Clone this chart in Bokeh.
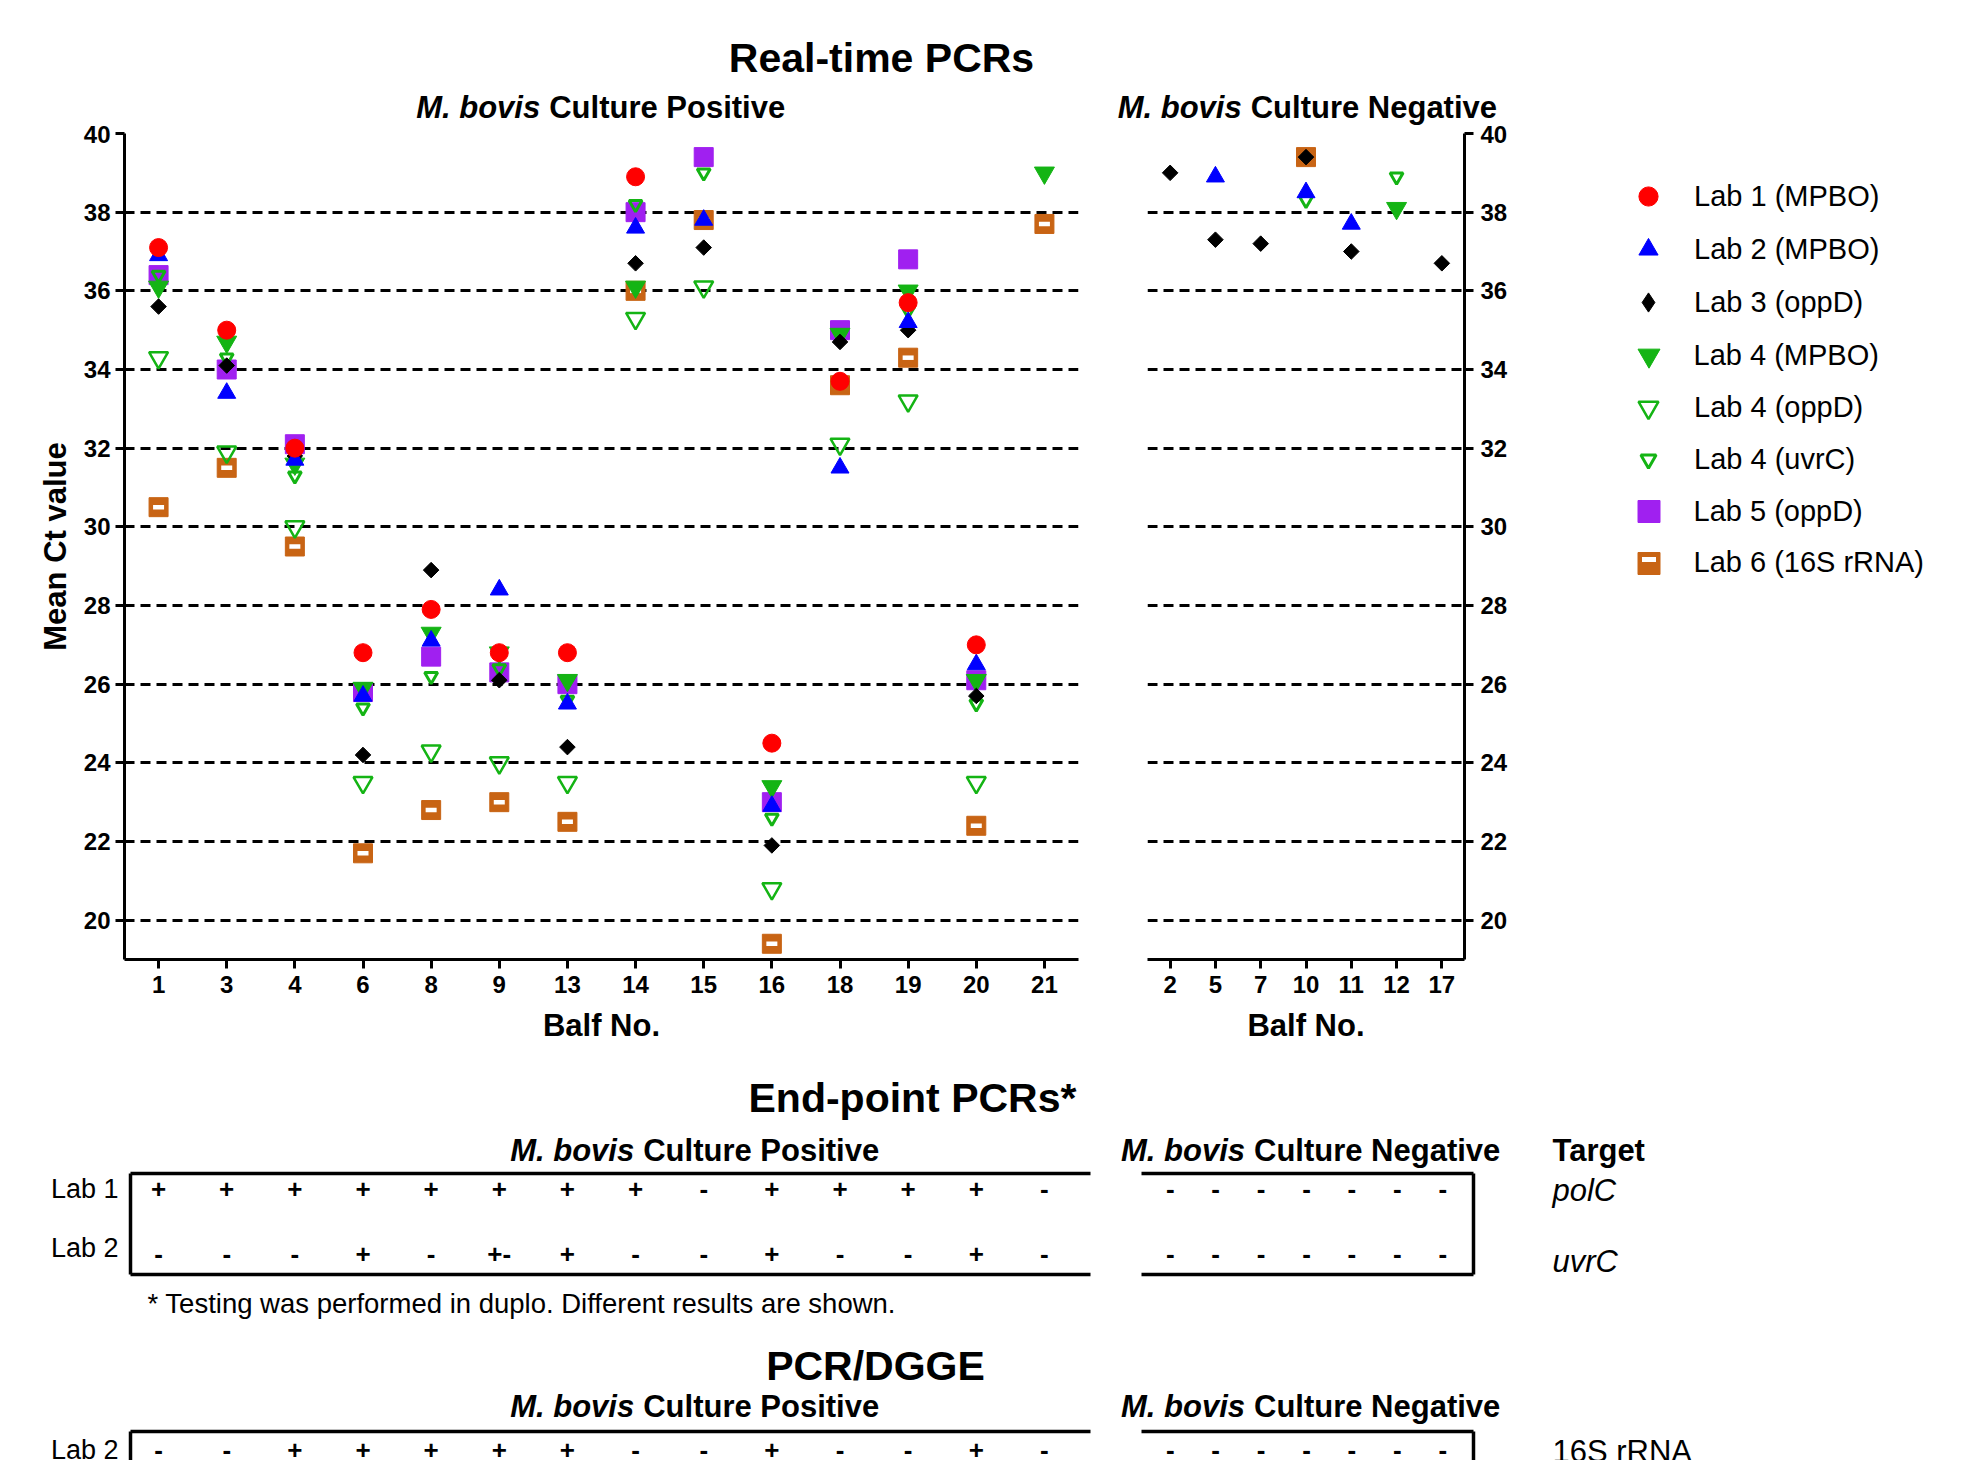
from bokeh.plotting import figure
from bokeh.models import (ColumnDataSource, FactorRange, Range1d, FixedTicker, Label,
                          Legend, LegendItem, LinearAxis)
from bokeh.layouts import column, row
from bokeh.embed import file_html
from bokeh.resources import INLINE
from bokeh.core.properties import value
import numpy as np
import math

FONT = "Liberation Sans"

# ---------------- data ----------------
balf_positive = ["1", "3", "4", "6", "8", "9", "13", "14", "15", "16", "18", "19", "20", "21"]
balf_negative = ["2", "5", "7", "10", "11", "12", "17"]
ct_ticks = [20, 22, 24, 26, 28, 30, 32, 34, 36, 38, 40]

series_labels = ["Lab 1 (MPBO)", "Lab 2 (MPBO)", "Lab 3 (oppD)", "Lab 4 (MPBO)",
                 "Lab 4 (oppD)", "Lab 4 (uvrC)", "Lab 5 (oppD)", "Lab 6 (16S rRNA)"]

# Mean Ct values, culture positive Balfs (order of balf_positive)
lab1_mpbo_pos = [37.1, 35.0, 32.0, 26.8, 27.9, 26.8, 26.8, 38.9, None, 24.5, 33.7, 35.7, 27.0, None]
lab2_mpbo_pos = [36.9, 33.4, 31.7, 25.7, 27.1, 28.4, 25.5, 37.6, 37.8, 22.9, 31.5, 35.2, 26.5, None]
lab3_oppd_pos = [35.6, 34.1, 31.8, 24.2, 28.9, 26.1, 24.4, 36.7, 37.1, 21.9, 34.7, 35.0, 25.7, None]
lab4_mpbo_pos = [36.1, 34.7, 31.6, 25.9, 27.3, 26.8, 26.1, 36.1, None, 23.4, 34.9, 36.0, 26.1, 39.0]
lab4_oppd_pos = [34.3, 31.9, 30.0, 23.5, 24.3, 24.0, 23.5, 35.3, 36.1, 20.8, 32.1, 33.2, 23.5, None]
lab4_uvrc_pos = [36.4, 34.3, 31.3, 25.4, 26.2, 26.4, 25.6, 38.2, 39.0, 22.6, 34.9, 35.5, 25.5, None]
lab5_oppd_pos = [36.4, 34.0, 32.1, 25.8, 26.7, 26.3, 26.0, 38.0, 39.4, 23.0, 35.0, 36.8, 26.1, None]
lab6_16s_pos = [30.5, 31.5, 29.5, 21.7, 22.8, 23.0, 22.5, 36.0, 37.8, 19.4, 33.6, 34.3, 22.4, 37.7]

# Mean Ct values, culture negative Balfs (order of balf_negative)
lab1_mpbo_neg = [None, None, None, None, None, None, None]
lab2_mpbo_neg = [None, 38.9, None, 38.5, 37.7, None, None]
lab3_oppd_neg = [39.0, 37.3, 37.2, 39.4, 37.0, None, 36.7]
lab4_mpbo_neg = [None, None, None, None, None, 38.1, None]
lab4_oppd_neg = [None, None, None, None, None, None, None]
lab4_uvrc_neg = [None, None, None, 38.3, None, 38.9, None]
lab5_oppd_neg = [None, None, None, None, None, None, None]
lab6_16s_neg = [None, None, None, 39.4, None, None, None]

# End-point PCR results
endpoint_rows = ["Lab 1", "Lab 2"]
endpoint_targets = ["polC", "uvrC"]
endpoint_lab1_pos = ["+", "+", "+", "+", "+", "+", "+", "+", "-", "+", "+", "+", "+", "-"]
endpoint_lab2_pos = ["-", "-", "-", "+", "-", "+-", "+", "-", "-", "+", "-", "-", "+", "-"]
endpoint_lab1_neg = ["-", "-", "-", "-", "-", "-", "-"]
endpoint_lab2_neg = ["-", "-", "-", "-", "-", "-", "-"]

# PCR/DGGE results
dgge_rows = ["Lab 2"]
dgge_targets = ["16S rRNA"]
dgge_lab2_pos = ["-", "-", "+", "+", "+", "+", "+", "-", "-", "+", "-", "-", "+", "-"]
dgge_lab2_neg = ["-", "-", "-", "-", "-", "-", "-"]

# ---------------- styles ----------------
RED, BLUE, BLACK = "#FF0000", "#0000FF", "#000000"
GREEN, PURPLE, ORANGE = "#14B414", "#A020F0", "#C86414"

# size = marker size in the plot; lg / lg_marker = marker in the legend
series = [
    dict(label=series_labels[0], pos=lab1_mpbo_pos, neg=lab1_mpbo_neg, marker="circle", size=18,
         fill=RED, color=RED, lw=1, angle=0, lg=19, lg_marker="circle"),
    dict(label=series_labels[1], pos=lab2_mpbo_pos, neg=lab2_mpbo_neg, marker="triangle", size=18,
         fill=BLUE, color=BLUE, lw=1, angle=0, lg=19, lg_marker="triangle"),
    dict(label=series_labels[2], pos=lab3_oppd_pos, neg=lab3_oppd_neg, marker="square", size=11,
         fill=BLACK, color=BLACK, lw=1, angle=math.pi / 4, lg=19, lg_marker="diamond"),
    dict(label=series_labels[3], pos=lab4_mpbo_pos, neg=lab4_mpbo_neg, marker="inverted_triangle", size=20,
         fill=GREEN, color=GREEN, lw=1, angle=0, lg=22, lg_marker="inverted_triangle"),
    dict(label=series_labels[4], pos=lab4_oppd_pos, neg=lab4_oppd_neg, marker="inverted_triangle", size=19,
         fill=None, color=GREEN, lw=2.5, angle=0, lg=20, lg_marker="inverted_triangle"),
    dict(label=series_labels[5], pos=lab4_uvrc_pos, neg=lab4_uvrc_neg, marker="inverted_triangle", size=13,
         fill=None, color=GREEN, lw=3, angle=0, lg=15, lg_marker="inverted_triangle"),
    dict(label=series_labels[6], pos=lab5_oppd_pos, neg=lab5_oppd_neg, marker="square", size=19,
         fill=PURPLE, color=PURPLE, lw=1, angle=0, lg=22, lg_marker="square"),
    dict(label=series_labels[7], pos=lab6_16s_pos, neg=lab6_16s_neg, marker="square", size=19,
         fill=ORANGE, color=ORANGE, lw=1, angle=0, lg=22, lg_marker="square", bar=True),
]

# ---------------- geometry (page px) ----------------
HEAD0 = 125          # header band height
CHART_BOTTOM = 1062  # bottom of the chart band
A_FRAME_L, A_FRAME_W = 124, 954
B_FRAME_L, B_FRAME_W = 1147, 318
FRAME_T, FRAME_H = 133, 826
FRAME_B = FRAME_T + FRAME_H


def base_fig(width, height, **kw):
    p = figure(width=width, height=height, title=None, output_backend="svg",
               toolbar_location=None, **kw)
    p.outline_line_color = None
    p.background_fill_color = "white"
    p.border_fill_color = "white"
    return p


def text_fig(x0, x1, y0, y1, ft=None, fb=None):
    """Blank panel whose data coordinates are page pixels (frame from ft to fb)."""
    ft = y0 if ft is None else ft
    fb = y1 if fb is None else fb
    p = base_fig(x1 - x0, y1 - y0, x_range=Range1d(x0, x1), y_range=Range1d(fb, ft),
                 x_axis_location=None, y_axis_location=None,
                 min_border_left=0, min_border_right=0,
                 min_border_top=ft - y0, min_border_bottom=y1 - fb)
    p.grid.visible = False
    return p


def add_label(p, x, y, text, size, style="normal", align="left", x_offset=0):
    p.add_layout(Label(x=x, y=y, text=text, text_font=FONT, text_font_size=f"{size}px",
                       text_font_style=style, text_align=align, text_baseline="middle",
                       x_offset=x_offset, text_color="black"))


def add_mbovis(p, x_split, y, rest, size=31):
    add_label(p, x_split, y, "M. bovis", size, "bold italic", "right")
    add_label(p, x_split, y, rest, size, "bold", "left", x_offset=round(0.278 * size))


def make_src(cats, vals):
    keep = [(c, v) for c, v in zip(cats, vals) if v is not None]
    return ColumnDataSource(dict(x=[c for c, _ in keep], y=[v for _, v in keep]))


def draw_series(p, cats, key):
    for s in reversed(series):
        src = make_src(cats, s[key])
        p.scatter("x", "y", source=src, marker=s["marker"], size=s["size"], angle=s["angle"],
                  fill_color=s["fill"], line_color=s["color"], line_width=s["lw"])
        if s.get("bar"):
            p.scatter("x", "y", source=src, marker="dash", size=11, line_color="white", line_width=4.5)


def style_chart(p):
    p.xgrid.visible = False
    p.yaxis.ticker = FixedTicker(ticks=ct_ticks)
    p.ygrid.grid_line_color = "black"
    p.ygrid.grid_line_width = 3
    p.ygrid.grid_line_dash = "10 6"
    for ax in p.axis:
        ax.axis_line_width = 3
        ax.axis_line_color = "black"
        ax.major_tick_line_width = 3
        ax.major_tick_line_color = "black"
        ax.major_tick_out = 9
        ax.major_tick_in = 0
        ax.minor_tick_line_color = None
        ax.major_label_text_font = FONT
        ax.major_label_text_font_size = "24px"
        ax.major_label_text_font_style = "bold"
        ax.major_label_text_color = "black"
        ax.axis_label_text_font = FONT
        ax.axis_label_text_font_size = "31px"
        ax.axis_label_text_font_style = "bold"
        ax.axis_label_text_color = "black"
    p.xaxis.major_label_standoff = 7
    p.xaxis.axis_label = "Balf No."
    p.xaxis.axis_label_standoff = 12


# ---------------- header band ----------------
head0 = text_fig(0, 1974, 0, HEAD0)
add_label(head0, 881, 57, "Real-time PCRs", 41, "bold", "center")
add_mbovis(head0, 539.7, 107, "Culture Positive")
add_mbovis(head0, 1241.2, 107, "Culture Negative")

# ---------------- chart band ----------------
CH = CHART_BOTTOM - HEAD0
pA = base_fig(1110, CH, x_range=FactorRange(factors=balf_positive), y_range=Range1d(19, 40),
              min_border_left=A_FRAME_L, min_border_right=1110 - A_FRAME_L - A_FRAME_W,
              min_border_top=FRAME_T - HEAD0, min_border_bottom=CHART_BOTTOM - FRAME_B)
style_chart(pA)
pA.yaxis.major_label_standoff = 5
pA.yaxis.axis_label = "Mean Ct value"
pA.yaxis.axis_label_standoff = 8
draw_series(pA, balf_positive, "pos")

B_W = 400
pB = base_fig(B_W, CH, x_range=FactorRange(factors=balf_negative), y_range=Range1d(19, 40),
              y_axis_location="right",
              min_border_left=B_FRAME_L - 1110, min_border_right=1110 + B_W - B_FRAME_L - B_FRAME_W,
              min_border_top=FRAME_T - HEAD0, min_border_bottom=CHART_BOTTOM - FRAME_B)
style_chart(pB)
pB.yaxis.major_label_standoff = 7
draw_series(pB, balf_negative, "neg")

# legend panel (frame aligned with the chart frames)
C_X0 = 1110 + B_W
pC = text_fig(C_X0, 1974, HEAD0, CHART_BOTTOM, FRAME_T, FRAME_B)
LEG_CX, LEG_TX, GH = 1648, 1694, 58
leg_y = [196.0, 249.0, 302.0, 355.0, 407.0, 459.0, 511.0, 562.5]
nan_src = dict(x=np.array([np.nan]), y=np.array([np.nan]))


def add_legend(p, label, renderer, msize, yc, dy=0.0):
    gw = int(round(msize / 0.4))
    leg = Legend(items=[LegendItem(label=label, renderers=[renderer])],
                 location=(LEG_CX - gw / 2 - C_X0, FRAME_B - (yc - GH / 2) - GH + dy),
                 glyph_width=gw, glyph_height=GH, label_height=GH,
                 label_standoff=int(round(LEG_TX - LEG_CX - gw / 2)),
                 padding=0, spacing=0, margin=0, border_line_color=None,
                 background_fill_alpha=0, label_text_font=FONT, label_text_font_size="29px",
                 label_text_color="black")
    p.add_layout(leg)


for i, s in enumerate(series):
    r = pC.scatter("x", "y", source=ColumnDataSource(nan_src), marker=s["lg_marker"], size=s["lg"],
                   fill_color=s["fill"], line_color=s["color"], line_width=s["lw"])
    add_legend(pC, s["label"], r, s["lg"], leg_y[i])
    if s.get("bar"):
        rb = pC.scatter("x", "y", source=ColumnDataSource(nan_src), marker="dash", size=14,
                        line_color="white", line_width=5)
        add_legend(pC, "", rb, 14, leg_y[i], dy=4)


# ---------------- tables ----------------
P_PITCH = A_FRAME_W / len(balf_positive)
N_PITCH = B_FRAME_W / len(balf_negative)
P_COL0 = A_FRAME_L + P_PITCH / 2
N_COL0 = B_FRAME_L + N_PITCH / 2
ROW_PITCH = 65.0


def box_axis(ticks=None, labels=None, size=27, style="normal", standoff=12):
    ticks = ticks or []
    ax = LinearAxis(ticker=FixedTicker(ticks=ticks))
    ax.axis_line_width = 3.5
    ax.axis_line_color = "black"
    ax.major_tick_line_color = None
    ax.minor_tick_line_color = None
    ax.major_tick_out = 0
    ax.major_tick_in = 0
    ax.major_label_text_font = FONT
    ax.major_label_text_font_size = f"{size}px"
    ax.major_label_text_font_style = style
    ax.major_label_text_color = "black"
    ax.major_label_standoff = standoff
    if labels:
        ax.major_label_overrides = {t: lab for t, lab in zip(ticks, labels)}
    return ax


def table_fig(x0, x1, frame_l, frame_r, y0, y1, frame_t, frame_b, row0_y, positive):
    col0, pitch = (P_COL0, P_PITCH) if positive else (N_COL0, N_PITCH)
    xr = Range1d((frame_l - col0) / pitch, (frame_r - col0) / pitch)
    yr = Range1d((frame_b - row0_y) / ROW_PITCH, (frame_t - row0_y) / ROW_PITCH)
    p = base_fig(x1 - x0, y1 - y0, x_range=xr, y_range=yr, x_axis_location=None, y_axis_location=None,
                 min_border_left=frame_l - x0, min_border_right=x1 - frame_r,
                 min_border_top=frame_t - y0, min_border_bottom=y1 - frame_b)
    p.grid.visible = False
    return p


def signs(p, rows):
    for r_i, vals in enumerate(rows):
        p.text(x=list(range(len(vals))), y=[r_i] * len(vals), text=vals,
               text_font=value(FONT), text_font_size="26px", text_font_style="bold",
               text_align="center", text_baseline="middle", text_color="black")


# header for end-point PCRs
H1_0, H1_1 = CHART_BOTTOM, 1169
head1 = text_fig(0, 1974, H1_0, H1_1)
add_label(head1, 912, 1097, "End-point PCRs*", 41, "bold", "center")
add_mbovis(head1, 633.7, 1150, "Culture Positive")
add_mbovis(head1, 1244.5, 1150, "Culture Negative")
add_label(head1, 1552, 1150, "Target", 31, "bold")

# end-point table
T1_0, T1_1 = H1_1, 1280
T1_FT, T1_FB, T1_ROW0 = 1173, 1274, 1188
t1p = table_fig(0, 1110, 130, 1090, T1_0, T1_1, T1_FT, T1_FB, T1_ROW0, True)
t1p.add_layout(box_axis([0, 0.92], endpoint_rows), "left")
t1p.add_layout(box_axis(), "above")
t1p.add_layout(box_axis(), "below")
signs(t1p, [endpoint_lab1_pos, endpoint_lab2_pos])

t1n = table_fig(1110, 1974, 1141, 1473, T1_0, T1_1, T1_FT, T1_FB, T1_ROW0, False)
t1n.add_layout(box_axis([0.03, 1.12], endpoint_targets, 31, "italic", 79), "right")
t1n.add_layout(box_axis(), "above")
t1n.add_layout(box_axis(), "below")
signs(t1n, [endpoint_lab1_neg, endpoint_lab2_neg])

# footnote + PCR/DGGE header
H2_0, H2_1 = T1_1, 1428
head2 = text_fig(0, 1974, H2_0, H2_1)
add_label(head2, 147, 1303, "* Testing was performed in duplo. Different results are shown.", 27.5)
add_label(head2, 875, 1365, "PCR/DGGE", 41, "bold", "center")
add_mbovis(head2, 633.7, 1406, "Culture Positive")
add_mbovis(head2, 1244.5, 1406, "Culture Negative")

# PCR/DGGE table (cut by the page edge)
T2_0, T2_1 = H2_1, 1460
T2_FT, T2_FB, T2_ROW0 = 1431, 1460, 1449
t2l = text_fig(0, 120, T2_0, T2_1, T2_FT, T2_FB)
add_label(t2l, 118, 1449, dgge_rows[0], 27, "normal", "right")

t2p = table_fig(120, 1110, 130, 1090, T2_0, T2_1, T2_FT, T2_FB, T2_ROW0, True)
t2p.add_layout(box_axis(), "left")
t2p.add_layout(box_axis(), "above")
signs(t2p, [dgge_lab2_pos])

t2n = table_fig(1110, 1500, 1141, 1473, T2_0, T2_1, T2_FT, T2_FB, T2_ROW0, False)
t2n.add_layout(box_axis(), "right")
t2n.add_layout(box_axis(), "above")
signs(t2n, [dgge_lab2_neg])

t2t = text_fig(1500, 1974, T2_0, T2_1, T2_FT, T2_FB)
add_label(t2t, 1552, 1451, dgge_targets[0], 31)

layout = column(head0,
                row(pA, pB, pC, spacing=0),
                head1,
                row(t1p, t1n, spacing=0),
                head2,
                row(t2l, t2p, t2n, t2t, spacing=0),
                spacing=0)
open("out.html", "w").write(file_html(layout, INLINE))
